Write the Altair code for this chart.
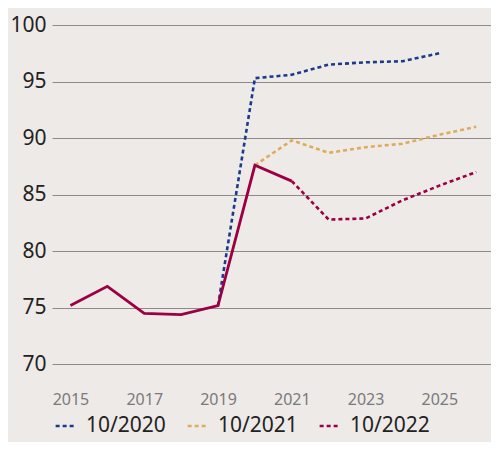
import altair as alt
import pandas as pd

actual_years = [2015, 2016, 2017, 2018, 2019, 2020, 2021]
actual_vals = [75.2, 76.9, 74.5, 74.4, 75.2, 87.6, 86.2]

f2020_years = [2019, 2020, 2021, 2022, 2023, 2024, 2025]
f2020_vals = [75.2, 95.3, 95.6, 96.5, 96.7, 96.8, 97.5]

f2021_years = [2020, 2021, 2022, 2023, 2024, 2025, 2026]
f2021_vals = [87.6, 89.8, 88.7, 89.2, 89.5, 90.3, 91.0]

f2022_years = [2021, 2022, 2023, 2024, 2025, 2026]
f2022_vals = [86.2, 82.8, 82.9, 84.5, 85.8, 87.0]

series_names = ["10/2020", "10/2021", "10/2022"]
series_colors = ["#1b3a8c", "#ddac5c", "#9c0044"]
x_ticks = [2015, 2017, 2019, 2021, 2023, 2025]
y_ticks = [70, 75, 80, 85, 90, 95, 100]

rows = []
for name, ys, vs in zip(series_names, [f2020_years, f2021_years, f2022_years], [f2020_vals, f2021_vals, f2022_vals]):
    for y, v in zip(ys, vs):
        rows.append({"year": y, "value": v, "series": name})
fc = pd.DataFrame(rows)
act = pd.DataFrame({"year": actual_years, "value": actual_vals})

xscale = alt.Scale(domain=[2014.5, 2026.4], nice=False, zero=False)
yscale = alt.Scale(domain=[68, 100], nice=False, zero=False)

xaxis = alt.Axis(values=x_ticks, format="d", grid=False, domain=False, ticks=False,
                 labelColor="#7a7a7a", labelFontSize=16, labelPadding=4, title=None,
                 labelFont="Noto Sans")
yaxis = alt.Axis(values=y_ticks, grid=True, gridColor="#8f8a88", gridWidth=1, domain=False,
                 ticks=False, labelColor="#222222", labelFontSize=21, labelPadding=6,
                 title=None, labelFont="Noto Sans")

dashed = alt.Chart(fc).mark_line(strokeDash=[4, 3], strokeWidth=2.6).encode(
    x=alt.X("year:Q", scale=xscale, axis=xaxis),
    y=alt.Y("value:Q", scale=yscale, axis=yaxis),
    color=alt.Color("series:N",
                    scale=alt.Scale(domain=series_names, range=series_colors),
                    legend=alt.Legend(orient="none", legendX=2, legendY=390, direction="horizontal",
                                      title=None, symbolType="stroke", symbolDash=[4, 3],
                                      symbolStrokeWidth=2.6, symbolSize=350, labelFontSize=21,
                                      labelColor="#222222", labelFont="Noto Sans",
                                      columnPadding=16, labelOffset=10, labelLimit=200)),
)

solid = alt.Chart(act).mark_line(strokeWidth=2.8, color="#9c0044").encode(
    x=alt.X("year:Q", scale=xscale),
    y=alt.Y("value:Q", scale=yscale),
)

chart = alt.layer(dashed, solid).properties(
    width=439, height=362,
    background="#eeeae7",
    padding={"left": 44, "top": 17, "right": 0, "bottom": 55},
    autosize=alt.AutoSizeParams(type="none"),
).configure_view(stroke=None)

chart.save("out.html", embed_options={"renderer": "svg", "actions": False})
